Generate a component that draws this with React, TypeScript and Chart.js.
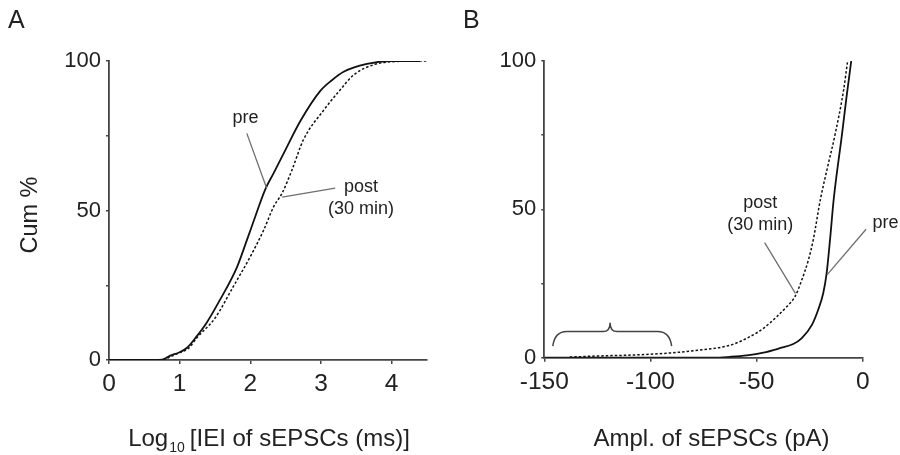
import React, { useEffect, useRef } from 'react';
import { Chart, registerables } from 'chart.js';

Chart.register(...registerables);

// ---------- Panel A: cumulative IEI (log10 ms) ----------
const A_PRE_X = [0, 0.5, 0.75, 0.86, 1.0, 1.1, 1.24, 1.38, 1.57, 1.81, 1.95, 2.07, 2.21, 2.33, 2.47, 2.71, 2.99, 3.15, 3.32, 3.65, 3.98, 4.4];
const A_PRE_Y = [0, 0, 0.1, 1.4, 2.6, 4.0, 7.9, 12.4, 20.1, 31, 40, 48, 57, 62.5, 69, 80, 90, 93.5, 96.4, 99, 100, 100];
const A_POST_X = [0, 0.5, 0.75, 0.88, 1.0, 1.12, 1.25, 1.5, 1.76, 2.0, 2.19, 2.33, 2.45, 2.59, 2.75, 3.04, 3.27, 3.46, 3.74, 4.12, 4.5];
const A_POST_Y = [0, 0, 0.1, 1.2, 2.5, 3.8, 7.6, 14, 24.6, 34.6, 43.5, 51.3, 55.8, 63.6, 73.6, 83.6, 90.3, 95.3, 98.7, 99.9, 100];
const A_X_TICKS = [0, 1, 2, 3, 4];
const A_X_LABELS = ['0', '1', '2', '3', '4'];

// ---------- Panel B: cumulative amplitude (pA) ----------
const B_PRE_X = [-150, -100, -70, -62.5, -54.6, -46.8, -39.0, -32.7, -28.8, -24.0, -21.0, -18.6, -17.0, -15.4, -13.7, -9.7, -7.6, -5.4];
const B_PRE_Y = [0, 0, 0, 0.3, 0.8, 1.7, 3.2, 4.6, 6.5, 11.0, 16.1, 21.7, 28.4, 39.7, 53.1, 75.6, 88, 100];
const B_POST_X = [-138, -123.8, -108.1, -92.3, -76.6, -62.5, -53.1, -46.8, -40.5, -35.8, -31.9, -28.7, -25.6, -23.3, -20.0, -16.5, -12.9, -9.0, -7.1];
const B_POST_Y = [0.2, 0.6, 0.9, 1.5, 2.6, 4.2, 7.1, 9.9, 13.8, 17.2, 20.6, 26.2, 32.9, 39.7, 53.1, 64.4, 75.6, 90.2, 100];
const B_X_TICKS = [-150, -100, -50, 0];
const B_X_LABELS = ['-150', '-100', '-50', '0'];

// ---------- shared y axis ----------
const Y_TICKS = [0, 25, 50, 75, 100];
const Y_LABELS = ['0', '', '50', '', '100'];

// ---------- annotations (data units) ----------
const A_NOTES = [
  { lines: ['pre'], x: 1.933, y: 79.4, leader: [1.95, 75.8, 2.23, 57.5] },
  { lines: ['post', '(30 min)'], x: 3.565, y: 56.3, leader: [3.2, 57.5, 2.45, 54.5] },
];
const B_NOTES = [
  { lines: ['post', '(30 min)'], x: -48.3, y: 50.4, leader: [-46.2, 38.8, -31.7, 21.7] },
  { lines: ['pre'], x: 10.7, y: 43.6, leader: [1.6, 43.3, -16.8, 27.9] },
];
// curly brace over the large-amplitude events (data units)
const B_BRACE = { left: -146, right: -90, center: -119, yEnd: 3.9, yMid: 8.8, yTip: 11.8 };

const FONT = '"Liberation Sans", Arial, Helvetica, sans-serif';
const INK = '#222';
const AXIS = '#444';

function toPoints(xs: number[], ys: number[]) {
  return xs.map((x, i) => ({ x, y: ys[i] }));
}

function drawNotes(chart: any, notes: any[]) {
  const ctx = chart.ctx;
  const xs = chart.scales.x;
  const ys = chart.scales.y;
  ctx.save();
  for (const n of notes) {
    const [x1, y1, x2, y2] = n.leader;
    ctx.strokeStyle = '#6e6e6e';
    ctx.lineWidth = 1.3;
    ctx.beginPath();
    ctx.moveTo(xs.getPixelForValue(x1), ys.getPixelForValue(y1));
    ctx.lineTo(xs.getPixelForValue(x2), ys.getPixelForValue(y2));
    ctx.stroke();
    ctx.fillStyle = INK;
    ctx.font = `18px ${FONT}`;
    ctx.textAlign = 'center';
    ctx.textBaseline = 'alphabetic';
    const px = xs.getPixelForValue(n.x);
    const py = ys.getPixelForValue(n.y);
    n.lines.forEach((t: string, i: number) => ctx.fillText(t, px, py + i * 22));
  }
  ctx.restore();
}

function makeConfig(o: any) {
  return {
    type: 'scatter',
    data: {
      datasets: [
        {
          data: toPoints(o.preX, o.preY),
          showLine: true,
          borderColor: '#111',
          borderWidth: 1.8,
          pointRadius: 0,
          cubicInterpolationMode: 'monotone',
          fill: false,
        },
        {
          data: toPoints(o.postX, o.postY),
          showLine: true,
          borderColor: '#111',
          borderWidth: 1.5,
          borderDash: [2.5, 2],
          pointRadius: 0,
          cubicInterpolationMode: 'monotone',
          fill: false,
        },
      ],
    },
    options: {
      animation: false,
      responsive: false,
      events: [],
      layout: { padding: { top: 61, right: o.padRight, left: 0, bottom: 0 } },
      plugins: { legend: { display: false }, tooltip: { enabled: false } },
      scales: {
        x: {
          type: 'linear',
          min: o.xMin,
          max: o.xMax,
          afterBuildTicks: (s: any) => {
            s.ticks = o.xTicks.map((v: number) => ({ value: v }));
          },
          afterFit: (s: any) => {
            s.height = o.xAxisHeight;
          },
          ticks: {
            autoSkip: false,
            maxRotation: 0,
            padding: 6,
            color: INK,
            font: { family: FONT, size: 24.5 },
            callback: (v: number) => o.xLabels[o.xTicks.indexOf(v)],
          },
          grid: { drawOnChartArea: false, drawTicks: true, tickLength: 4, color: AXIS, lineWidth: 1.5 },
          border: { display: true, color: AXIS, width: 1.8 },
        },
        y: {
          type: 'linear',
          min: 0,
          max: 100,
          afterBuildTicks: (s: any) => {
            s.ticks = Y_TICKS.map((v) => ({ value: v }));
          },
          afterFit: (s: any) => {
            s.width = o.yAxisWidth;
          },
          ticks: {
            autoSkip: false,
            padding: 5,
            color: INK,
            font: { family: FONT, size: 22 },
            callback: (v: number) => Y_LABELS[Y_TICKS.indexOf(v)],
          },
          grid: { drawOnChartArea: false, drawTicks: true, tickLength: 3, color: AXIS, lineWidth: 1.5 },
          border: { display: true, color: AXIS, width: 1.8 },
        },
      },
    },
    plugins: [{ id: 'extras', afterDraw: (chart: any) => o.extras(chart) }],
  };
}

function extrasA(chart: any) {
  drawNotes(chart, A_NOTES);
  const ctx = chart.ctx;
  ctx.save();
  ctx.fillStyle = INK;
  ctx.textBaseline = 'alphabetic';
  ctx.textAlign = 'left';
  ctx.font = `25px ${FONT}`;
  ctx.fillText('A', 8, 28);
  // y title
  ctx.save();
  ctx.translate(37, 215);
  ctx.rotate(-Math.PI / 2);
  ctx.textAlign = 'center';
  ctx.font = `23.5px ${FONT}`;
  ctx.fillText('Cum %', 0, 0);
  ctx.restore();
  // x title with subscript
  const main = `24px ${FONT}`;
  const sub = `14px ${FONT}`;
  ctx.font = main;
  const wLog = ctx.measureText('Log').width;
  const wRest = ctx.measureText('[IEI of sEPSCs (ms)]').width;
  ctx.font = sub;
  const wSub = ctx.measureText('10').width;
  const total = wLog + 1 + wSub + 5 + wRest;
  let x = 269 - total / 2;
  const base = 446;
  ctx.font = main;
  ctx.fillText('Log', x, base);
  x += wLog + 1;
  ctx.font = sub;
  ctx.fillText('10', x, base + 6);
  x += wSub + 5;
  ctx.font = main;
  ctx.fillText('[IEI of sEPSCs (ms)]', x, base);
  ctx.restore();
}

function extrasB(chart: any) {
  drawNotes(chart, B_NOTES);
  const ctx = chart.ctx;
  const xs = chart.scales.x;
  const ys = chart.scales.y;
  ctx.save();
  // brace
  const L = xs.getPixelForValue(B_BRACE.left);
  const R = xs.getPixelForValue(B_BRACE.right);
  const C = xs.getPixelForValue(B_BRACE.center);
  const yE = ys.getPixelForValue(B_BRACE.yEnd);
  const yM = ys.getPixelForValue(B_BRACE.yMid);
  const yT = ys.getPixelForValue(B_BRACE.yTip);
  ctx.strokeStyle = AXIS;
  ctx.lineWidth = 1.5;
  ctx.beginPath();
  ctx.moveTo(L, yE);
  ctx.quadraticCurveTo(L + 2, yM, L + 14, yM);
  ctx.lineTo(C - 7, yM);
  ctx.quadraticCurveTo(C, yM, C, yT);
  ctx.quadraticCurveTo(C, yM, C + 7, yM);
  ctx.lineTo(R - 14, yM);
  ctx.quadraticCurveTo(R - 2, yM, R, yE);
  ctx.stroke();
  // letter + title
  ctx.fillStyle = INK;
  ctx.textBaseline = 'alphabetic';
  ctx.textAlign = 'left';
  ctx.font = `25px ${FONT}`;
  ctx.fillText('B', 13, 28);
  ctx.textAlign = 'center';
  ctx.font = `24px ${FONT}`;
  ctx.fillText('Ampl. of sEPSCs (pA)', 261.5, 446);
  ctx.restore();
}

function Panel({ left, config }: { left: number; config: any }) {
  const ref = useRef<HTMLCanvasElement | null>(null);
  useEffect(() => {
    if (!ref.current) return;
    const chart = new Chart(ref.current, config);
    return () => chart.destroy();
  }, []);
  return (
    <canvas
      ref={ref}
      width={450}
      height={455}
      style={{ position: 'absolute', left, top: 0, width: 450, height: 455 }}
    />
  );
}

const CONFIG_A = makeConfig({
  preX: A_PRE_X,
  preY: A_PRE_Y,
  postX: A_POST_X,
  postY: A_POST_Y,
  xMin: 0,
  xMax: 4.5,
  xTicks: A_X_TICKS,
  xLabels: A_X_LABELS,
  yAxisWidth: 109,
  xAxisHeight: 95,
  padRight: 23,
  extras: extrasA,
});

const CONFIG_B = makeConfig({
  preX: B_PRE_X,
  preY: B_PRE_Y,
  postX: B_POST_X,
  postY: B_POST_Y,
  xMin: -150,
  xMax: 0,
  xTicks: B_X_TICKS,
  xLabels: B_X_LABELS,
  yAxisWidth: 94.3,
  xAxisHeight: 97.3,
  padRight: 37.3,
  extras: extrasB,
});

export default function App() {
  return (
    <div style={{ position: 'fixed', left: 0, top: 0, width: 900, height: 455, background: '#fff', overflow: 'hidden' }}>
      <Panel left={0} config={CONFIG_A} />
      <Panel left={450} config={CONFIG_B} />
    </div>
  );
}
